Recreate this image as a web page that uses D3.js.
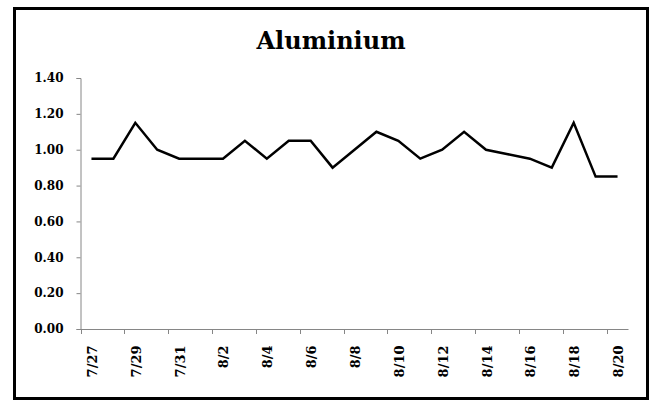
<!DOCTYPE html>
<html><head><meta charset="utf-8">
<script src="https://cdn.jsdelivr.net/npm/d3@7"></script>
<style>html,body{margin:0;padding:0;background:#fff;}svg{display:block;}</style>
</head><body>
<script>
const dates = ["7/27","7/28","7/29","7/30","7/31","8/1","8/2","8/3","8/4","8/5","8/6","8/7","8/8","8/9","8/10","8/11","8/12","8/13","8/14","8/15","8/16","8/17","8/18","8/19","8/20"];
const values = [0.95,0.95,1.15,1.00,0.95,0.95,0.95,1.05,0.95,1.05,1.05,0.90,1.00,1.10,1.05,0.95,1.00,1.10,1.00,0.975,0.95,0.90,1.15,0.85,0.85];
const yTicks = [0,0.2,0.4,0.6,0.8,1.0,1.2,1.4];
const title = "Aluminium";

const W = 650, H = 401;
const svg = d3.select("body").append("svg").attr("width", W).attr("height", H);
svg.append("rect").attr("width", W).attr("height", H).attr("fill", "#fff");

// frame
svg.append("rect").attr("x", 14.5).attr("y", 8.5).attr("width", 633).attr("height", 390)
  .attr("fill", "none").attr("stroke", "#000").attr("stroke-width", 3);

const x = d3.scaleBand().domain(dates).range([80.5, 628.5]).padding(0);
const y = d3.scaleLinear().domain([0, 1.4]).range([329, 78]);
const font = "'DejaVu Serif', serif";
const axisColor = "#868686";

svg.append("text").attr("x", 331).attr("y", 49).attr("text-anchor", "middle")
  .attr("font-family", font).attr("font-weight", "bold").attr("font-size", 24)
  .attr("fill", "#000").text(title);

// y axis
const yAxis = svg.append("g").attr("transform", "translate(80.5,0)")
  .call(d3.axisLeft(y).tickValues(yTicks).tickSize(4).tickPadding(13).tickFormat(d3.format(".2f")));
yAxis.select(".domain").attr("stroke", axisColor);
yAxis.selectAll(".tick line").attr("stroke", axisColor);
yAxis.selectAll("text").attr("font-family", font).attr("font-weight", "bold").attr("font-size", 12).attr("fill", "#000");

// x axis: ticks at category boundaries every 2 categories
const boundaries = dates.filter((d, i) => i % 2 === 0);
const xg = svg.append("g");
xg.append("line").attr("x1", x.range()[0]).attr("x2", x.range()[1]).attr("y1", 329.5).attr("y2", 329.5)
  .attr("stroke", axisColor);
xg.selectAll("line.tk").data(boundaries).enter().append("line").attr("class", "tk")
  .attr("x1", d => Math.round(x(d)) + 0.5).attr("x2", d => Math.round(x(d)) + 0.5)
  .attr("y1", 329).attr("y2", 334).attr("stroke", axisColor);
xg.selectAll("text").data(boundaries).enter().append("text")
  .attr("transform", d => `translate(${x(d) + x.bandwidth() / 2 + 5.5},345.5) rotate(-90)`)
  .attr("text-anchor", "end")
  .attr("font-family", font).attr("font-weight", "bold").attr("font-size", 13).attr("fill", "#000")
  .text(d => d);

// line
const line = d3.line().x((d, i) => x(dates[i]) + x.bandwidth() / 2).y(d => y(d));
svg.append("path").datum(values).attr("d", line).attr("fill", "none")
  .attr("stroke", "#000").attr("stroke-width", 2.5).attr("stroke-linejoin", "miter");
</script>
</body></html>
